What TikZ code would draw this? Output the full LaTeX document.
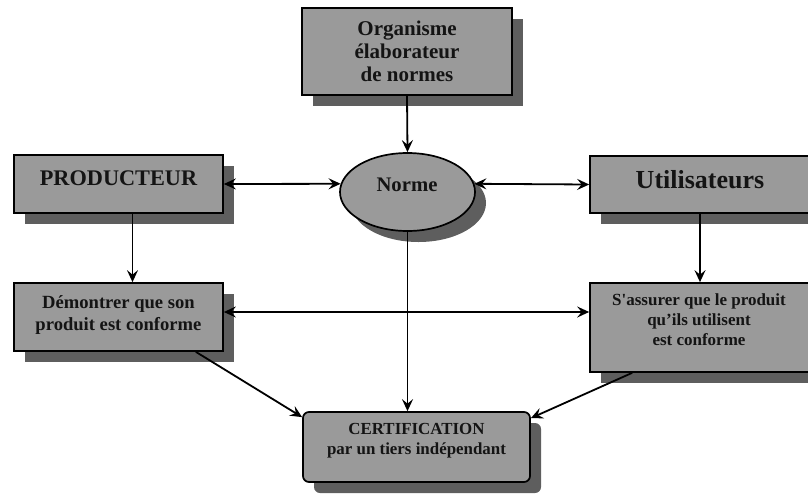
\documentclass[tikz,border=0pt]{standalone}
\usepackage{fontspec}
\setmainfont{Liberation Serif}
\newfontfamily\plainquote{Liberation Serif}
\usetikzlibrary{arrows.meta,shapes.geometric,shadows}
\definecolor{boxgray}{HTML}{9A9A9A}
\definecolor{shadowgray}{HTML}{5E5E5E}
\begin{document}
\begin{tikzpicture}[x=1pt,y=-1pt,
  shape box/.style={draw=black, line width=1.7pt, fill=boxgray, inner sep=0pt,
    drop shadow={shadow xshift=11pt, shadow yshift=-11pt, fill=shadowgray, opacity=1}},
  rectbox/.style={shape box, rectangle},
  txt/.style={align=center, inner sep=0pt, font=\bfseries, text=black!92},
  arr/.style={line width=1.8pt, -{Stealth[length=12pt,width=11pt,inset=4.5pt]}},
  arrtwo/.style={line width=1.8pt, {Stealth[length=12pt,width=11pt,inset=4.5pt]}-{Stealth[length=12pt,width=11pt,inset=4.5pt]}}]
\useasboundingbox (0,0) rectangle (808,493);
\clip (0,0) rectangle (808,493);
% boxes
\node[rectbox, minimum width=210pt, minimum height=87pt] (org) at (407,51.5) {};
\node[rectbox, minimum width=209pt, minimum height=58pt] (prod) at (118.5,184) {};
\node[rectbox, minimum width=220pt, minimum height=57pt] (util) at (700,184.5) {};
\node[rectbox, minimum width=209pt, minimum height=68pt] (dem) at (118.5,317) {};
\node[rectbox, minimum width=220pt, minimum height=89pt] (ass) at (700,327.5) {};
\node[shape box, rectangle, rounded corners=6pt, minimum width=227pt, minimum height=70pt] (cert) at (416.5,447) {};
\node[shape box, ellipse, minimum width=135pt, minimum height=78pt] (norme) at (407.5,192) {};
% texts
\node[txt, font=\bfseries\fontsize{21}{23.3}\selectfont] (orgt) at (407,51.5) {Organisme\\élaborateur\\de normes};
\node[txt, font=\bfseries\fontsize{22.3}{24}\selectfont] (prodt) at (118.5,178.5) {PRODUCTEUR};
\node[txt, font=\bfseries\fontsize{26}{30}\selectfont] (utilt) at (700,180) {Utilisateurs};
\node[txt, font=\bfseries\fontsize{20.7}{22}\selectfont] (normet) at (407,184.5) {Norme};
\node[txt, font=\bfseries\fontsize{18.6}{21.7}\selectfont] (demt) at (118.5,314.8) {Démontrer que son\\produit est conforme};
\node[txt, font=\bfseries\fontsize{17}{20}\selectfont] (asst) at (699,319.2) {S{\plainquote\bfseries '}assurer que le produit\\qu’ils utilisent\\est conforme};
\node[txt, font=\bfseries\fontsize{16.9}{20}\selectfont] (certt) at (416.5,441.1) {CERTIFICATION\\par un tiers indépendant};
% connectors
\draw[arr] (org.south) -- (norme.north);
\draw[arrtwo] (prod.east) -- (norme.173);
\draw[arrtwo] (norme.7) -- (util.west);
\draw[arr] ([xshift=14pt]prod.south) -- ([xshift=14pt]dem.north);
\draw[arr] (util.south) -- (ass.north);
\draw[arrtwo] ([yshift=5pt]dem.east) -- ([yshift=15.5pt]ass.west);
\draw[arr] (norme.south) -- (norme.south |- cert.north);
\draw[arr] ([xshift=-28pt]dem.south east) -- ([yshift=-6pt]cert.north west);
\draw[arr] ([xshift=43pt]ass.south west) -- ([yshift=-7pt]cert.north east);
\end{tikzpicture}
\end{document}
